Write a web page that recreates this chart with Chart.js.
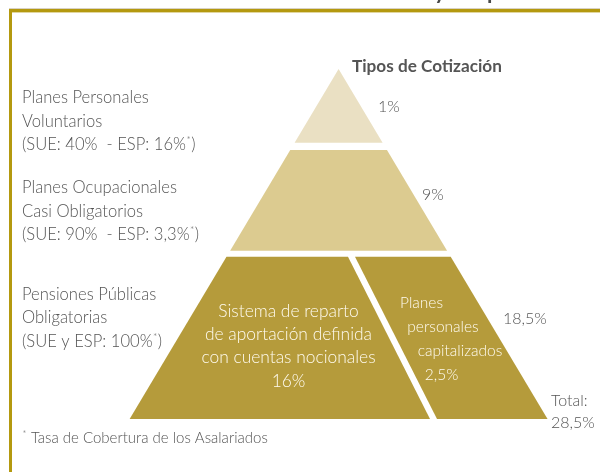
<!DOCTYPE html>
<html>
<head>
<meta charset="utf-8">
<script src="https://cdn.jsdelivr.net/npm/chart.js@4/dist/chart.umd.min.js"></script>
<style>
  body { margin: 0; background: #fff; }
  #piramide { display: block; }
</style>
</head>
<body>
<canvas id="piramide" width="600" height="472"></canvas>
<script>
// datos
const niveles = ["Planes Personales Voluntarios", "Planes Ocupacionales Casi Obligatorios", "Pensiones Públicas Obligatorias"];
const etiquetasNivel = [
  ["Planes Personales", "Voluntarios", "(SUE: 40%  - ESP: 16%*)"],
  ["Planes Ocupacionales", "Casi Obligatorios", "(SUE: 90%  - ESP: 3,3%*)"],
  ["Pensiones Públicas", "Obligatorias", "(SUE y ESP: 100%*)"]
];
const tiposCotizacion = [1, 9, 18.5];
const componentesPublicos = [
  ["Sistema de reparto", "de aportación definida", "con cuentas nocionales"],
  ["Planes", "personales", "capitalizados"]
];
const tiposPublicos = [16, 2.5];
const tituloPiramide = "Tipos de Cotización";
const notaPie = "* Tasa de Cobertura de los Asalariados";

const totalCotizacion = tiposCotizacion.reduce((a, b) => a + b, 0);
const pct = v => String(v).replace(".", ",") + "%";

// geometria de la piramide (unidades de la escala)
const vertice = { x: 338.6, y: 69 };
const pendiente = 0.597;
const franjas = [[69, 142.7], [150, 250.7], [256.8, 419]];
const corte = { arriba: 348, abajo: 430, hueco: 7 };
const colores = ["#eae0c3", "#dccb90", "#b59b3b"];

function borde(y, lado) {
  return vertice.x + lado * pendiente * (y - vertice.y);
}

function trapecio(f) {
  const [y0, y1] = franjas[f];
  return [
    { x: borde(y0, -1), y: y0 }, { x: borde(y0, 1), y: y0 },
    { x: borde(y1, 1), y: y1 }, { x: borde(y1, -1), y: y1 }
  ];
}

const [b0, b1] = franjas[2];
const poligonos = [
  trapecio(0),
  trapecio(1),
  [{ x: borde(b0, -1), y: b0 }, { x: corte.arriba, y: b0 }, { x: corte.abajo, y: b1 }, { x: borde(b1, -1), y: b1 }],
  [{ x: corte.arriba + corte.hueco, y: b0 }, { x: borde(b0, 1), y: b0 }, { x: borde(b1, 1), y: b1 }, { x: corte.abajo + corte.hueco, y: b1 }]
];
const coloresPoligono = [colores[0], colores[1], colores[2], colores[2]];

const gris = "#555555";
const fuente = (px, w) => (w || "300") + " " + px + "px Lato, 'Open Sans', sans-serif";

// texto con asteriscos en superindice
function textoRico(ctx, texto, x, y, px) {
  const partes = texto.split("*");
  let cx = x;
  partes.forEach((p, i) => {
    ctx.font = fuente(px);
    ctx.fillText(p, cx, y);
    cx += ctx.measureText(p).width;
    if (i < partes.length - 1) {
      ctx.font = fuente(Math.round(px * 0.6));
      ctx.fillText("*", cx + 0.5, y - px * 0.42);
      cx += ctx.measureText("*").width + 1;
    }
  });
}

const pluginPiramide = {
  id: "piramide",
  beforeDatasetsDraw(chart) {
    const ctx = chart.ctx;
    chart.data.datasets.forEach((ds, i) => {
      const pts = chart.getDatasetMeta(i).data;
      ctx.save();
      ctx.beginPath();
      pts.forEach((p, k) => (k ? ctx.lineTo(p.x, p.y) : ctx.moveTo(p.x, p.y)));
      ctx.closePath();
      ctx.fillStyle = ds.backgroundColor;
      ctx.fill();
      ctx.restore();
    });
  },
  afterDraw(chart) {
    const ctx = chart.ctx;
    const sx = v => chart.scales.x.getPixelForValue(v);
    const sy = v => chart.scales.y.getPixelForValue(v);
    ctx.save();
    ctx.textBaseline = "alphabetic";

    // resto del titulo de la pagina (cortado arriba, solo asoman los trazos bajos)
    ctx.fillStyle = "#4a4a4a";
    ctx.font = "400 30px Lato, sans-serif";
    ctx.textAlign = "left";
    ctx.fillText("Suecia y España", 433 - ctx.measureText("Suecia ").width, -2.5);

    // marco
    ctx.fillStyle = "#ffffff";
    ctx.fillRect(0, 5, 600, 8);
    ctx.fillStyle = "#d9d2c4";
    ctx.fillRect(9, 8, 591, 1);
    ctx.fillStyle = "#b4990f";
    ctx.fillRect(9, 9, 591, 3.4);
    ctx.fillRect(9, 9, 3, 463);

    // titulo
    ctx.fillStyle = "#555";
    ctx.font = fuente(17.2, "bold");
    ctx.textAlign = "left";
    ctx.fillText(tituloPiramide, sx(352), sy(72));

    // etiquetas a la izquierda
    const baseIzq = [103.3, 193.3, 300];
    ctx.fillStyle = gris;
    etiquetasNivel.forEach((lineas, n) => {
      lineas.forEach((t, k) => textoRico(ctx, t, sx(22), sy(baseIzq[n] + k * 23.4), 16.6));
    });

    // tipos a la derecha
    ctx.font = fuente(16);
    const posTipo = [[378, 111.7], [422, 200], [503, 324]];
    tiposCotizacion.forEach((v, n) => ctx.fillText(pct(v), sx(posTipo[n][0]), sy(posTipo[n][1])));
    ctx.fillText("Total:", sx(551), sy(405.7));
    ctx.fillText(pct(totalCotizacion), sx(551), sy(428.3));

    // textos dentro del nivel publico
    ctx.fillStyle = "#fffbef";
    ctx.textAlign = "center";
    ctx.font = fuente(17.4);
    const izq = componentesPublicos[0].concat([pct(tiposPublicos[0])]);
    izq.forEach((t, k) => ctx.fillText(t, sx(288.5), sy(316.7 + k * 23.3)));
    ctx.font = fuente(15.5);
    const der = componentesPublicos[1].concat([pct(tiposPublicos[1])]);
    const cxDer = [421.5, 443, 460, 441.5];
    const byDer = [308, 331.5, 355.5, 380];
    der.forEach((t, k) => ctx.fillText(t, sx(cxDer[k]), sy(byDer[k])));

    // nota
    ctx.fillStyle = gris;
    ctx.textAlign = "left";
    textoRico(ctx, notaPie, sx(22), sy(443), 15);
    ctx.restore();
  }
};

new Chart(document.getElementById("piramide"), {
  type: "scatter",
  data: {
    labels: niveles,
    datasets: poligonos.map((pts, i) => ({
      label: i < 2 ? niveles[i] : niveles[2],
      data: pts,
      backgroundColor: coloresPoligono[i],
      pointRadius: 0,
      showLine: false
    }))
  },
  options: {
    responsive: false,
    animation: false,
    devicePixelRatio: 1,
    layout: { padding: 0 },
    plugins: { legend: { display: false }, tooltip: { enabled: false } },
    scales: {
      x: { type: "linear", min: 0, max: 600, display: false },
      y: { type: "linear", min: 0, max: 472, reverse: true, display: false }
    }
  },
  plugins: [pluginPiramide]
});
</script>
</body>
</html>
